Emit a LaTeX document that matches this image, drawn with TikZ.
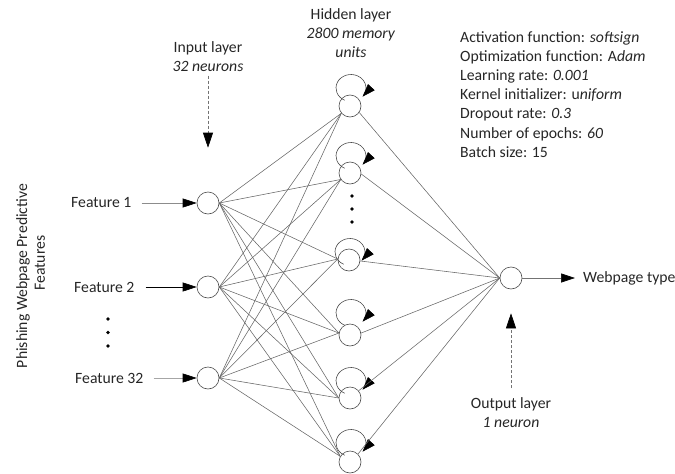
\documentclass[tikz,border=0pt]{standalone}
\usepackage{fontspec}
\setmainfont{Carlito}
\usetikzlibrary{arrows.meta}
\begin{document}
\begin{tikzpicture}[x=1pt,y=-1pt,
  neuron/.style={circle, draw=black!70, line width=0.6pt, minimum size=22pt, inner sep=0pt},
  conn/.style={draw=black!60, line width=0.55pt},
  txt/.style={font=\fontsize{15.7}{19.2}\selectfont, text=black!85, inner sep=0pt},
  fatarrow/.style={-{Triangle[length=14pt,width=9pt,color=black]}},
  looparrow/.style={draw=black!70, line width=0.6pt, -{Triangle[length=13pt,width=9pt,color=black]}},
  dasharrow/.style={draw=black!55, line width=0.6pt, dash pattern=on 3pt off 2pt, -{Triangle[length=15pt,width=10pt,color=black]}}
]
\useasboundingbox (0,0) rectangle (675,474);

% input neurons
\node[neuron] (i1) at (208,203) {};
\node[neuron] (i2) at (208,287) {};
\node[neuron] (i3) at (208,378) {};
% hidden neurons
\node[neuron] (h1) at (350,106) {};
\node[neuron] (h2) at (350,173) {};
\node[neuron] (h3) at (349,260) {};
\node[neuron] (h4) at (350,335) {};
\node[neuron] (h5) at (350,398) {};
\node[neuron] (h6) at (350,462) {};
% output neuron
\node[neuron] (o) at (511,278) {};

% self loops
\foreach \n/\dy in {h1/-18, h2/-17, h3/-8, h4/-22, h5/-17, h6/-19} {
  \draw[looparrow, shift={(\n.center)}]
    ({1+15*cos(-245)},{\dy+13.5*sin(-245)})
    arc[start angle=-245, end angle=40, x radius=15, y radius=13.5];
}

% input -> hidden
\foreach \i in {i1,i2,i3} {
  \foreach \h/\a in {h1/220, h2/215, h3/175, h4/170, h5/180, h6/150} {
    \draw[conn] (\i.east) -- (\h.\a);
  }
}
% hidden -> output
\foreach \h/\a in {h1/-35, h2/-5, h3/-5, h4/10, h5/40, h6/45} {
  \draw[conn] (\h.\a) -- (o.west);
}

% features
\node[txt, anchor=west] (f1) at (71,203) {Feature 1};
\node[txt, anchor=west] (f2) at (74,287) {Feature 2};
\node[txt, anchor=west] (f3) at (75,378) {Feature 32};
\draw[draw=black!45, line width=0.6pt, fatarrow, shorten <=10pt] (f1.east) -- (i1.west);
\draw[draw=black, line width=0.6pt, fatarrow, shorten <=11pt] (f2.east) -- (i2.west);
\draw[draw=black!35, line width=0.6pt, fatarrow, shorten <=10pt] (f3.east) -- (i3.west);

\fill[black] (108,319) circle (1.8pt);
\fill[black] (108,332.5) circle (1.8pt);
\fill[black] (108,346) circle (1.8pt);

\fill[black] (352,196) circle (1.8pt);
\fill[black] (352,209) circle (1.8pt);
\fill[black] (352,222) circle (1.8pt);

% output
\node[txt, anchor=west] (wt) at (583,278) {Webpage type};
\draw[draw=black!55, line width=0.6pt, fatarrow, shorten >=8pt] (o.east) -- (wt.west);

% layer labels
\node[txt, anchor=north, align=center] (il) at (208,41) {Input layer\\\textit{32 neurons}};
\draw[dasharrow, shorten <=4pt, shorten >=44pt] (il.south) -- (i1.north);

\node[txt, anchor=north, align=center] (hl) at (351,8) {Hidden layer\\\textit{2800 memory}\\\textit{units}};

\node[txt, anchor=north, align=center] (ol) at (511,397) {Output layer\\\textit{1 neuron}};
\draw[dasharrow, shorten <=9pt, shorten >=24pt] (ol.north) -- (o.south);

% rotated label
\node[txt, rotate=90] (pl1) at (23,276) {Phishing Webpage Predictive};
\node[txt, rotate=90] (pl2) at (40,263) {Features};

% parameters
\node[txt, anchor=north west, align=left] (par) at (460,31) {Activation function: \textit{softsign}\\
Optimization function: A\textit{dam}\\
Learning rate: \textit{0.001}\\
Kernel initializer: u\textit{niform}\\
Dropout rate: \textit{0.3}\\
Number of epochs: \textit{60}\\
Batch size: 15};
\end{tikzpicture}
\end{document}
